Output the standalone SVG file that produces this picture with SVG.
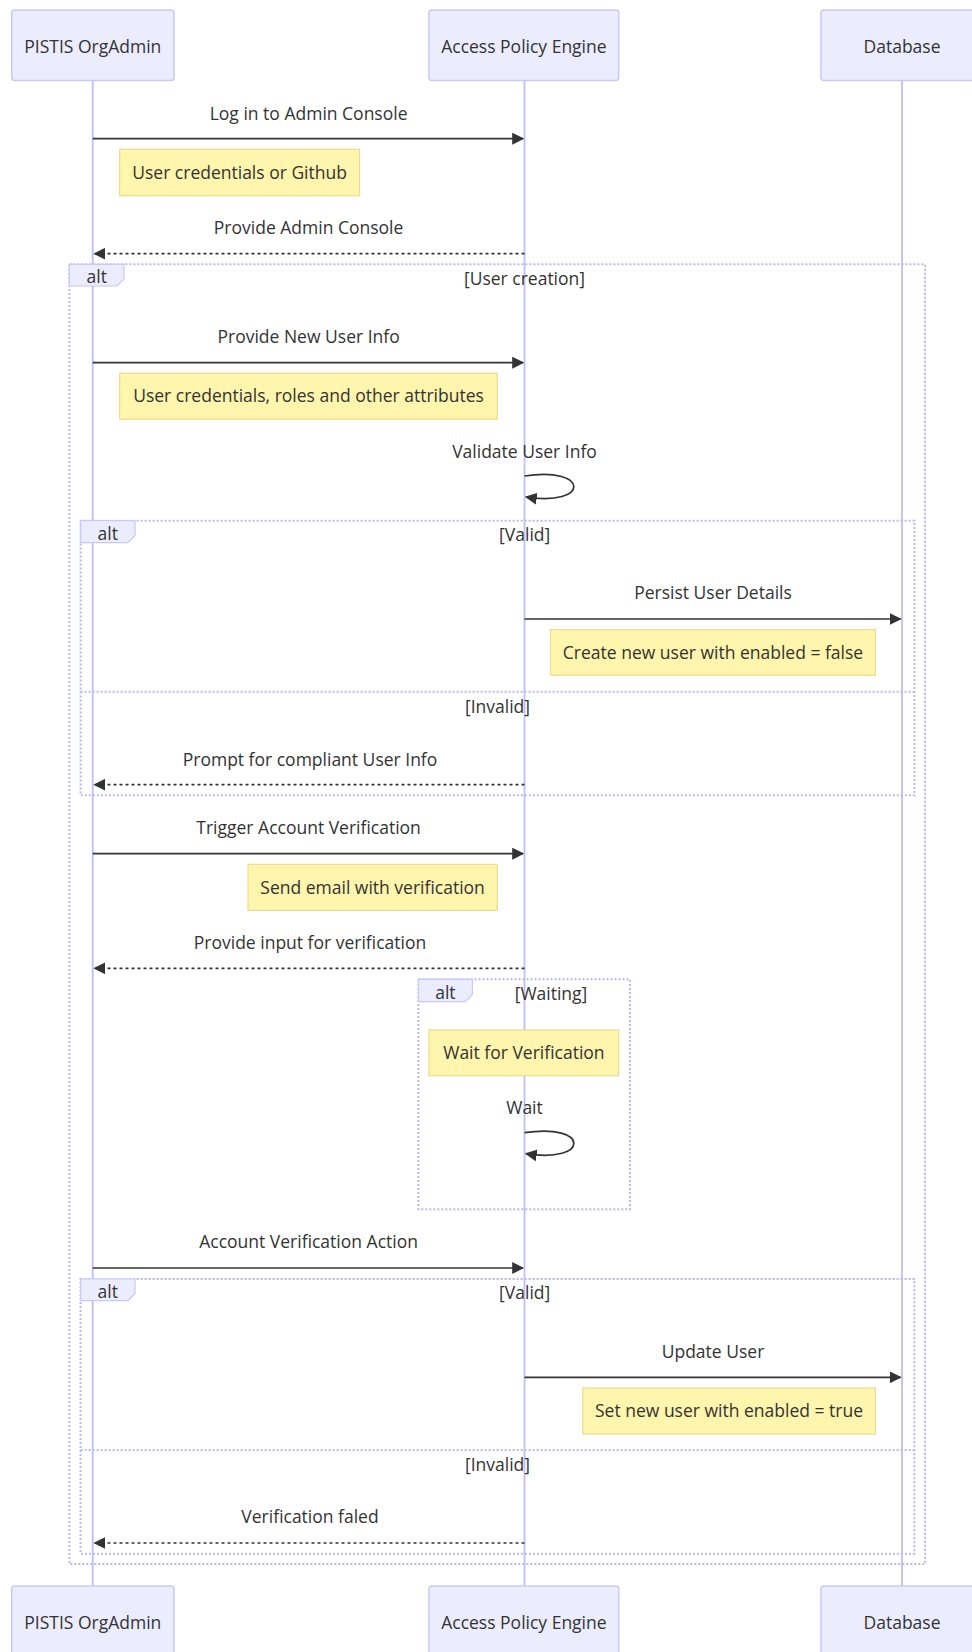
<svg xmlns="http://www.w3.org/2000/svg" width="972" height="1652" viewBox="0 0 972 1652">
  <style>
    text { font-family: "Open Sans", "Noto Sans", "Liberation Sans", sans-serif; font-size: 17.5px; fill: #333333; }
    .c { text-anchor: middle; dominant-baseline: central; }
    .actor { fill: #ECECFF; stroke: #C8C8FA; stroke-width: 1.5; }
    .lifeline { stroke: #BEBEF6; stroke-width: 1.8; fill: none; }
    .note { fill: #FFF5AD; stroke: #E8DC8E; stroke-width: 1.2; }
    .frame { fill: none; stroke: #B8B8F2; stroke-width: 2; stroke-dasharray: 2 2; }
    .lbl { fill: #ECECFF; stroke: #C8C8FA; stroke-width: 1.2; }
    .msg { stroke: #333333; stroke-width: 1.7; fill: none; }
    .dash { stroke-dasharray: 3 3; }
  </style>
  <defs>
    <marker id="arrowhead" viewBox="0 0 10 10" refX="9" refY="5" markerWidth="12" markerHeight="12" markerUnits="userSpaceOnUse" orient="auto">
      <path d="M 0 0 L 10 5 L 0 10 z" fill="#333333"/>
    </marker>
  </defs>

  <!-- lifelines -->
  <g id="lifelines">
    <line class="lifeline" x1="92.7" y1="80" x2="92.7" y2="1586"/>
    <line class="lifeline" x1="524.5" y1="80" x2="524.5" y2="1586"/>
    <line class="lifeline" x1="902" y1="80" x2="902" y2="1586"/>
  </g>

  <!-- participants (top) -->
  <g id="actor-orgadmin-top">
    <rect class="actor" x="11.7" y="10" width="162.3" height="70.5" rx="3"/>
    <text class="c" x="92.8" y="45.5">PISTIS OrgAdmin</text>
  </g>
  <g id="actor-ape-top">
    <rect class="actor" x="429" y="10" width="189.7" height="70.5" rx="3"/>
    <text class="c" x="523.9" y="45.5">Access Policy Engine</text>
  </g>
  <g id="actor-db-top">
    <rect class="actor" x="821" y="10" width="162" height="70.5" rx="3"/>
    <text class="c" x="902" y="45.5">Database</text>
  </g>

  <!-- alt frames -->
  <g id="frame-user-creation">
    <rect class="frame" x="69.4" y="264.3" width="855.6" height="1299.7"/>
    <polygon class="lbl" points="69.4,264.3 124,264.3 124,279 117,286 69.4,286"/>
    <text class="c" x="96.7" y="276">alt</text>
    <text class="c" x="524.5" y="277.5">[User creation]</text>
  </g>
  <g id="frame-valid-1">
    <rect class="frame" x="80.6" y="520.7" width="833.8" height="274.6"/>
    <line class="frame" x1="80.6" y1="691.7" x2="914.4" y2="691.7"/>
    <polygon class="lbl" points="80.6,520.7 135,520.7 135,535.5 128,542.7 80.6,542.7"/>
    <text class="c" x="107.8" y="533">alt</text>
    <text class="c" x="524.7" y="534">[Valid]</text>
    <text class="c" x="497.5" y="705.5">[Invalid]</text>
  </g>
  <g id="frame-waiting">
    <rect class="frame" x="418.5" y="979.3" width="211.4" height="230"/>
    <polygon class="lbl" points="418.5,979.3 472.4,979.3 472.4,994.5 465.4,1001.7 418.5,1001.7"/>
    <text class="c" x="445.4" y="991.5">alt</text>
    <text class="c" x="551" y="993">[Waiting]</text>
  </g>
  <g id="frame-valid-2">
    <rect class="frame" x="80.6" y="1279" width="833.8" height="274.7"/>
    <line class="frame" x1="80.6" y1="1450" x2="914.4" y2="1450"/>
    <polygon class="lbl" points="80.6,1279 135,1279 135,1293.5 128,1300.7 80.6,1300.7"/>
    <text class="c" x="107.8" y="1291">alt</text>
    <text class="c" x="524.7" y="1292">[Valid]</text>
    <text class="c" x="497.5" y="1464">[Invalid]</text>
  </g>

  <!-- notes -->
  <g id="note-login">
    <rect class="note" x="119.7" y="149.3" width="239.9" height="46.4"/>
    <text class="c" x="239.6" y="171.5">User credentials or Github</text>
  </g>
  <g id="note-new-user">
    <rect class="note" x="119.7" y="373.3" width="377.5" height="46"/>
    <text class="c" x="308.5" y="395.3">User credentials, roles and other attributes</text>
  </g>
  <g id="note-create">
    <rect class="note" x="550.5" y="629.7" width="324.9" height="45.6"/>
    <text class="c" x="713" y="651.5">Create new user with enabled = false</text>
  </g>
  <g id="note-email">
    <rect class="note" x="248" y="864.3" width="249.2" height="46"/>
    <text class="c" x="372.6" y="886.5">Send email with verification</text>
  </g>
  <g id="note-wait">
    <rect class="note" x="429" y="1030" width="189.7" height="45.7"/>
    <text class="c" x="523.9" y="1051.5">Wait for Verification</text>
  </g>
  <g id="note-set">
    <rect class="note" x="582.8" y="1388" width="292.6" height="46"/>
    <text class="c" x="729" y="1410">Set new user with enabled = true</text>
  </g>

  <!-- messages -->
  <g id="connectors">
    <text class="c" x="308.6" y="112.8">Log in to Admin Console</text>
    <line class="msg" x1="92.7" y1="138.7" x2="523" y2="138.7" marker-end="url(#arrowhead)"/>

    <text class="c" x="308.6" y="227.2">Provide Admin Console</text>
    <line class="msg dash" x1="524.5" y1="253.7" x2="94.5" y2="253.7" marker-end="url(#arrowhead)"/>

    <text class="c" x="308.6" y="336.2">Provide New User Info</text>
    <line class="msg" x1="92.7" y1="362.7" x2="523" y2="362.7" marker-end="url(#arrowhead)"/>

    <text class="c" x="524.5" y="451.2">Validate User Info</text>
    <path class="msg" d="M 524.5 476 C 590 466 590 507 526 497" marker-end="url(#arrowhead)"/>

    <text class="c" x="713" y="592.2">Persist User Details</text>
    <line class="msg" x1="524.5" y1="619" x2="900.5" y2="619" marker-end="url(#arrowhead)"/>

    <text class="c" x="310" y="758.5">Prompt for compliant User Info</text>
    <line class="msg dash" x1="524.5" y1="784.7" x2="94.5" y2="784.7" marker-end="url(#arrowhead)"/>

    <text class="c" x="308.6" y="826.8">Trigger Account Verification</text>
    <line class="msg" x1="92.7" y1="853.7" x2="523" y2="853.7" marker-end="url(#arrowhead)"/>

    <text class="c" x="310" y="942.2">Provide input for verification</text>
    <line class="msg dash" x1="524.5" y1="968.3" x2="94.5" y2="968.3" marker-end="url(#arrowhead)"/>

    <text class="c" x="524.5" y="1106.8">Wait</text>
    <path class="msg" d="M 524.5 1132.7 C 590 1122.7 590 1163.7 526 1153.7" marker-end="url(#arrowhead)"/>

    <text class="c" x="308.6" y="1241">Account Verification Action</text>
    <line class="msg" x1="92.7" y1="1268" x2="523" y2="1268" marker-end="url(#arrowhead)"/>

    <text class="c" x="713" y="1351.2">Update User</text>
    <line class="msg" x1="524.5" y1="1377.3" x2="900.5" y2="1377.3" marker-end="url(#arrowhead)"/>

    <text class="c" x="310" y="1516.2">Verification faled</text>
    <line class="msg dash" x1="524.5" y1="1543" x2="94.5" y2="1543" marker-end="url(#arrowhead)"/>
  </g>

  <!-- participants (bottom) -->
  <g id="actor-orgadmin-bottom">
    <rect class="actor" x="11.7" y="1586" width="162.3" height="70.5" rx="3"/>
    <text class="c" x="92.8" y="1621.5">PISTIS OrgAdmin</text>
  </g>
  <g id="actor-ape-bottom">
    <rect class="actor" x="429" y="1586" width="189.7" height="70.5" rx="3"/>
    <text class="c" x="523.9" y="1621.5">Access Policy Engine</text>
  </g>
  <g id="actor-db-bottom">
    <rect class="actor" x="821" y="1586" width="162" height="70.5" rx="3"/>
    <text class="c" x="902" y="1621.5">Database</text>
  </g>
</svg>
